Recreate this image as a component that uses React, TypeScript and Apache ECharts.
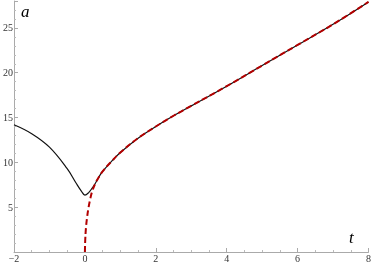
import React, { useEffect, useRef } from "react";
import * as echarts from "echarts";

const blackT = [-2, -1.5, -1, -0.5, -0.25, -0.1, 0, 0.1, 0.2, 0.3, 0.4, 0.5, 0.75, 1, 1.5, 2, 2.5, 3, 4, 5, 6, 7, 8];
const blackA = [14.2, 13.2, 11.7, 9.3, 7.7, 6.8, 6.35, 6.6, 7.1, 7.7, 8.4, 9.0, 10.1, 11.1, 12.7, 14.0, 15.2, 16.3, 18.5, 20.8, 23.1, 25.4, 27.9];
const redT = [0, 0.01, 0.03, 0.06, 0.1, 0.15, 0.2, 0.3, 0.4, 0.5, 0.75, 1, 1.5, 2, 2.5, 3, 4, 5, 6, 7, 8];
const redA = [0, 1.4, 2.7, 3.8, 4.9, 5.9, 6.7, 7.7, 8.4, 9.0, 10.1, 11.1, 12.7, 14.0, 15.2, 16.3, 18.5, 20.8, 23.1, 25.4, 27.9];
const xTicks = [-2, 0, 2, 4, 6, 8];
const yTicks = [5, 10, 15, 20, 25];

export default function App() {
  const ref = useRef<HTMLDivElement>(null);
  useEffect(() => {
    const chart = echarts.init(ref.current!, null, { renderer: "svg" });
    const axisCommon = {
      axisLine: { show: true, onZero: false, lineStyle: { color: "#aaaaaa", width: 1 } },
      axisTick: { show: true, inside: true, length: 4, lineStyle: { color: "#aaaaaa" } },
      minorTick: { show: true, length: 2, lineStyle: { color: "#bbbbbb" } },
      splitLine: { show: false },
    };
    const labelFont = "'Liberation Serif', 'DejaVu Serif', serif";
    chart.setOption({
      animation: false,
      grid: { left: 11, right: 3, top: 1, bottom: 10, containLabel: false },
      xAxis: {
        type: "value",
        min: -2,
        max: 8,
        interval: 2,
        ...axisCommon,
        minorTick: { ...axisCommon.minorTick, splitNumber: 4 },
        axisLabel: {
          margin: 1,
          fontFamily: labelFont,
          fontSize: 10,
          color: "#333",
          formatter: (v: number) => (xTicks.includes(v) ? String(v).replace("-", "\u2212") : ""),
        },
      },
      yAxis: {
        type: "value",
        min: 0,
        max: 28,
        interval: 5,
        ...axisCommon,
        minorTick: { ...axisCommon.minorTick, splitNumber: 5 },
        axisLabel: {
          margin: 1,
          fontFamily: labelFont,
          fontSize: 10,
          color: "#333",
          showMinLabel: false,
          formatter: (v: number) => (yTicks.includes(v) ? String(v) : ""),
        },
      },
      graphic: [
        { type: "text", left: 21, top: 3, style: { text: "a", font: "italic 17px 'Liberation Serif'", fill: "#000" } },
        { type: "text", left: 349, top: 229, style: { text: "t", font: "italic 17px 'Liberation Serif'", fill: "#000" } },
      ],
      series: [
        {
          type: "line",
          data: blackT.map((t, i) => [t, blackA[i]]),
          showSymbol: false,
          smooth: 0.4,
          lineStyle: { color: "#111", width: 1.2 },
        },
        {
          type: "line",
          data: redT.map((t, i) => [t, redA[i]]),
          showSymbol: false,
          smooth: 0.4,
          lineStyle: { color: "#b20000", width: 2, type: [6, 3] },
        },
      ],
    });
    return () => chart.dispose();
  }, []);
  return <div ref={ref} style={{ position: "fixed", left: 0, top: 0, width: 374, height: 263 }} />;
}
